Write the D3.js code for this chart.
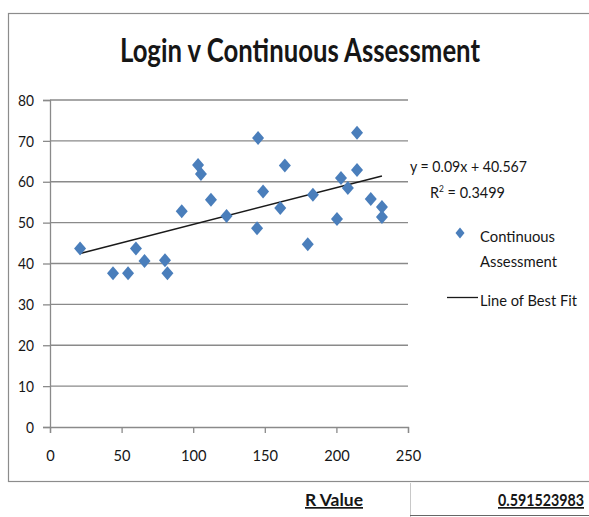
<!DOCTYPE html>
<html>
<head>
<meta charset="utf-8">
<script src="https://cdn.jsdelivr.net/npm/d3@7"></script>
<style>
  body { margin: 0; background: #fff; }
  svg { display: block; }
  text { font-family: Lato, "Open Sans", sans-serif; fill: #161616; }
</style>
</head>
<body>
<svg width="589" height="517"></svg>
<script>
// logins vs continuous assessment mark
const logins = [21, 44, 54.5, 60, 66, 80.3, 82, 92, 103.4, 105.4, 112.4, 123.3, 145.3, 144.6, 148.8, 160.8, 164, 180, 183.6, 200.4, 203.2, 208, 214.4, 214.4, 224, 231.8, 231.8];
const caScores = [43.7, 37.6, 37.6, 43.7, 40.6, 40.8, 37.6, 52.8, 64.1, 61.9, 55.6, 51.6, 70.7, 48.6, 57.6, 53.6, 64, 44.7, 56.8, 50.9, 60.9, 58.5, 72, 62.9, 55.8, 53.8, 51.4];
const slope = 0.09, intercept = 40.567;
const xTicks = [0, 50, 100, 150, 200, 250];
const yTicks = [0, 10, 20, 30, 40, 50, 60, 70, 80];

const svg = d3.select("svg");

// helper: text squeezed to a given width (the original font is narrow)
function label(x, y, str, size, width, opts = {}) {
  const t = svg.append("text")
    .attr("x", x).attr("y", y)
    .attr("font-size", size)
    .attr("text-anchor", opts.anchor || "start")
    .attr("font-weight", opts.weight || "normal")
    .attr("textLength", width)
    .attr("lengthAdjust", "spacingAndGlyphs")
    .text(str);
  if (opts.underline) t.attr("text-decoration", "underline");
  return t;
}

// chart frame
svg.append("rect")
  .attr("x", 8.5).attr("y", 13.5)
  .attr("width", 600).attr("height", 468)
  .attr("fill", "none").attr("stroke", "#8c8c8c").attr("stroke-width", 1.2);

const x = d3.scaleLinear().domain([0, 250]).range([50, 408]);
const y = d3.scaleLinear().domain([0, 80]).range([427, 100]);

// gridlines
svg.append("g")
  .selectAll("line")
  .data(yTicks.filter(d => d > 0))
  .join("line")
  .attr("x1", x(0)).attr("x2", x(250))
  .attr("y1", d => y(d)).attr("y2", d => y(d))
  .attr("stroke", "#8a8a8a").attr("stroke-width", 1.3);

const yAxis = svg.append("g")
  .attr("transform", `translate(${x(0)},0)`)
  .call(d3.axisLeft(y).tickValues(yTicks).tickSize(7).tickPadding(9));
yAxis.select(".domain").attr("stroke", "#8a8a8a").attr("stroke-width", 1.3);
yAxis.selectAll(".tick line").attr("stroke", "#8a8a8a").attr("stroke-width", 1.3);
yAxis.selectAll("text").attr("font-size", 16).attr("fill", "#1a1a1a")
  .attr("font-family", "Lato, Open Sans, sans-serif")
  .attr("textLength", d => String(d).length * 8)
  .attr("lengthAdjust", "spacingAndGlyphs");

const xAxis = svg.append("g")
  .attr("transform", `translate(0,${y(0)})`)
  .call(d3.axisBottom(x).tickValues(xTicks).tickSize(6).tickPadding(17));
xAxis.select(".domain").attr("stroke", "#8a8a8a").attr("stroke-width", 1.3);
xAxis.selectAll(".tick line").attr("stroke", "#8a8a8a").attr("stroke-width", 1.3);
xAxis.selectAll("text").attr("font-size", 16).attr("fill", "#1a1a1a")
  .attr("font-family", "Lato, Open Sans, sans-serif")
  .attr("textLength", d => String(d).length * 8.5)
  .attr("lengthAdjust", "spacingAndGlyphs");

// trend line
const xMin = d3.min(logins), xMax = d3.max(logins);
svg.append("line")
  .attr("x1", x(xMin)).attr("y1", y(slope * xMin + intercept))
  .attr("x2", x(xMax)).attr("y2", y(slope * xMax + intercept))
  .attr("stroke", "#1a1a1a").attr("stroke-width", 1.5);

const diamond = "M0,-7L6,0L0,7L-6,0Z";
const blue = "#4a7ebb";

svg.append("g")
  .selectAll("path")
  .data(logins.map((d, i) => [d, caScores[i]]))
  .join("path")
  .attr("d", diamond)
  .attr("transform", d => `translate(${x(d[0])},${y(d[1])})`)
  .attr("fill", blue);

// title
label(300, 62, "Login v Continuous Assessment", 32, 360, { anchor: "middle", weight: "bold" });

// equation
label(410, 172, "y = 0.09x + 40.567", 15.5, 117);
const r2 = svg.append("text").attr("x", 430).attr("y", 198).attr("font-size", 15.5);
r2.append("tspan").text("R");
r2.append("tspan").attr("dy", -6).attr("font-size", 9).text("2");
r2.append("tspan").attr("dy", 6).text(" = 0.3499");
r2.attr("textLength", 75).attr("lengthAdjust", "spacingAndGlyphs");

// legend
svg.append("path").attr("d", "M0,-5.5L4.5,0L0,5.5L-4.5,0Z")
  .attr("transform", "translate(460,233)").attr("fill", blue);
label(480, 242, "Continuous", 15.5, 75);
label(480, 267, "Assessment", 15.5, 77);
svg.append("line").attr("x1", 447).attr("x2", 478).attr("y1", 297.5).attr("y2", 297.5)
  .attr("stroke", "#1a1a1a").attr("stroke-width", 1.3);
label(480, 306, "Line of Best Fit", 15.5, 97);

// spreadsheet cells below the chart
svg.append("line").attr("x1", 410.5).attr("x2", 410.5).attr("y1", 483).attr("y2", 517)
  .attr("stroke", "#c8c8c8");
svg.append("line").attr("x1", 410).attr("x2", 589).attr("y1", 515.5).attr("y2", 515.5)
  .attr("stroke", "#666");
label(334, 506, "R Value", 17, 58, { anchor: "middle", weight: "bold", underline: true });
label(584, 506, "0.591523983", 17, 86, { anchor: "end", weight: "bold", underline: true });
</script>
</body>
</html>
